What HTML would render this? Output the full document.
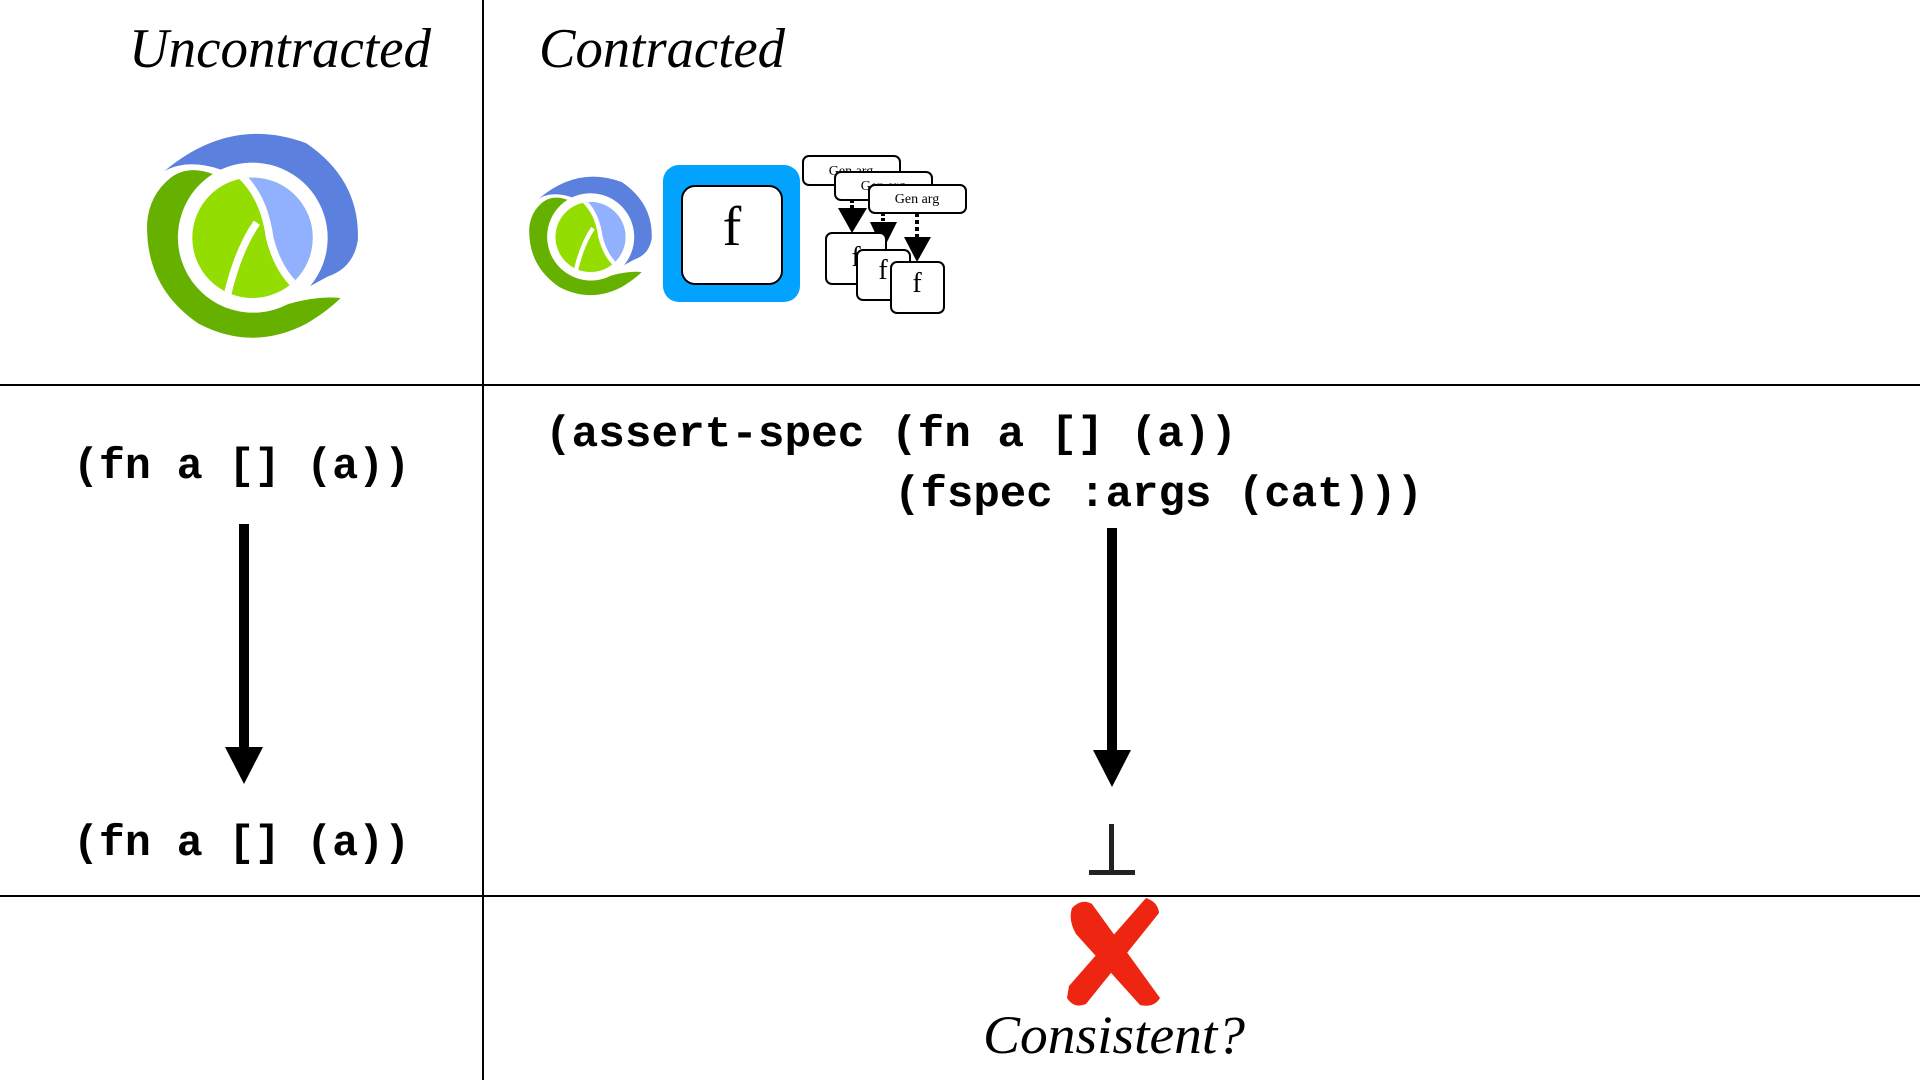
<!DOCTYPE html>
<html><head><meta charset="utf-8"><style>
html,body{margin:0;padding:0;background:#fff;width:1920px;height:1080px;overflow:hidden}
svg{display:block}
</style></head><body>
<svg width="1920" height="1080" viewBox="0 0 1920 1080" xmlns="http://www.w3.org/2000/svg">
<defs>
<clipPath id="ic"><circle cx="50" cy="52" r="28"/></clipPath>
<g id="logo">
  <path d="M9 21 Q40 -5 75 8 Q100 25 99 53 Q97 66 85 70 L76.8 74.5 A35 35 0 0 0 35.2 20.3 Q20 15 9 21 Z" fill="#5b80dd"/>
  <path d="M31.5 22.3 Q20 18 12 24 Q2 32 1 45 Q0 75 25 92 Q50 105 75 92 Q85 86 91 80 Q80 79 66.4 82.9 A35 35 0 0 1 31.5 22.3 Z" fill="#66b000"/>
  <g clip-path="url(#ic)">
    <rect x="0" y="0" width="100" height="100" fill="#93dd00"/>
    <path d="M41 20 Q55 30 58 52 Q62 68 72 76 L100 100 L100 0 Z" fill="#91b1ff"/>
    <path d="M41 20 Q55 30 58 52 Q62 68 72 76" stroke="#fff" stroke-width="3.5" fill="none"/>
    <path d="M52 45 Q43 58 38 80" stroke="#fff" stroke-width="3.5" fill="none"/>
  </g>
</g>
</defs>

<line x1="483" y1="0" x2="483" y2="1080" stroke="#000" stroke-width="2"/>
<line x1="0" y1="385" x2="1920" y2="385" stroke="#000" stroke-width="2"/>
<line x1="0" y1="896" x2="1920" y2="896" stroke="#000" stroke-width="2"/>

<text x="129" y="67" font-family="Liberation Serif, serif" font-style="italic" font-size="56" textLength="302" lengthAdjust="spacingAndGlyphs">Uncontracted</text>
<text x="539" y="67" font-family="Liberation Serif, serif" font-style="italic" font-size="56" textLength="246" lengthAdjust="spacingAndGlyphs">Contracted</text>

<use href="#logo" transform="translate(145,126) scale(2.15)"/>
<use href="#logo" transform="translate(528,172) scale(1.25)"/>

<rect x="663" y="165" width="137" height="137" rx="16" fill="#02a2ff"/>
<rect x="682" y="186" width="100" height="98" rx="13" fill="#fff" stroke="#000" stroke-width="2"/>
<text x="732" y="245" text-anchor="middle" font-family="Liberation Serif, serif" font-size="56">f</text>

<g font-family="Liberation Serif, serif" fill="#000">
  <rect x="803" y="156" width="97" height="29" rx="6" fill="#fff" stroke="#000" stroke-width="2"/>
  <text x="851" y="175" text-anchor="middle" font-size="14">Gen arg</text>
  <rect x="835" y="172" width="97" height="28" rx="6" fill="#fff" stroke="#000" stroke-width="2"/>
  <text x="883" y="190" text-anchor="middle" font-size="14">Gen arg</text>
  <rect x="869" y="185" width="97" height="28" rx="6" fill="#fff" stroke="#000" stroke-width="2"/>
  <text x="917" y="203" text-anchor="middle" font-size="14">Gen arg</text>
  <line x1="852" y1="200" x2="852" y2="208" stroke="#000" stroke-width="4" stroke-dasharray="3,2"/>
  <polygon points="838,208 867,208 852,233" fill="#000"/>
  <line x1="883" y1="213" x2="883" y2="222" stroke="#000" stroke-width="4" stroke-dasharray="3,2"/>
  <polygon points="870,222 897,222 883,250" fill="#000"/>
  <line x1="917" y1="213" x2="917" y2="237" stroke="#000" stroke-width="4" stroke-dasharray="4,3"/>
  <polygon points="904,237 931,237 917,262" fill="#000"/>
  <rect x="826" y="233" width="60" height="51" rx="6" fill="#fff" stroke="#000" stroke-width="2"/>
  <text x="856" y="266" text-anchor="middle" font-size="28">f</text>
  <rect x="857" y="250" width="53" height="50" rx="6" fill="#fff" stroke="#000" stroke-width="2"/>
  <text x="883" y="279" text-anchor="middle" font-size="28">f</text>
  <rect x="891" y="262" width="53" height="51" rx="6" fill="#fff" stroke="#000" stroke-width="2"/>
  <text x="917" y="292" text-anchor="middle" font-size="28">f</text>
</g>

<g font-family="Liberation Mono, monospace" font-weight="bold" font-size="44" fill="#000">
  <text x="73" y="478" textLength="337" lengthAdjust="spacingAndGlyphs">(fn a [] (a))</text>
  <text x="73" y="855" textLength="337" lengthAdjust="spacingAndGlyphs">(fn a [] (a))</text>
  <text x="545" y="446" textLength="692" lengthAdjust="spacingAndGlyphs">(assert-spec (fn a [] (a))</text>
  <text x="894" y="506" textLength="529" lengthAdjust="spacingAndGlyphs">(fspec :args (cat)))</text>
</g>

<rect x="239" y="524" width="10" height="226" fill="#000"/>
<polygon points="225,747 263,747 244,784" fill="#000"/>
<rect x="1107" y="528" width="10" height="224" fill="#000"/>
<polygon points="1093,750 1131,750 1112,787" fill="#000"/>

<rect x="1109" y="824" width="5" height="48" fill="#222"/>
<rect x="1089" y="870" width="46" height="5" fill="#222"/>

<g fill="#ee2510">
  <path d="M1072 908 Q1082 898 1092 904 L1160 998 Q1154 1008 1140 1005 L1076 934 Q1068 920 1072 908 Z"/>
  <path d="M1146 898 Q1158 902 1159 913 L1086 1004 Q1074 1009 1067 998 L1069 986 Z"/>
</g>
<text x="983" y="1053" font-family="Liberation Serif, serif" font-style="italic" font-size="54" textLength="262" lengthAdjust="spacingAndGlyphs">Consistent?</text>
</svg>
</body></html>
